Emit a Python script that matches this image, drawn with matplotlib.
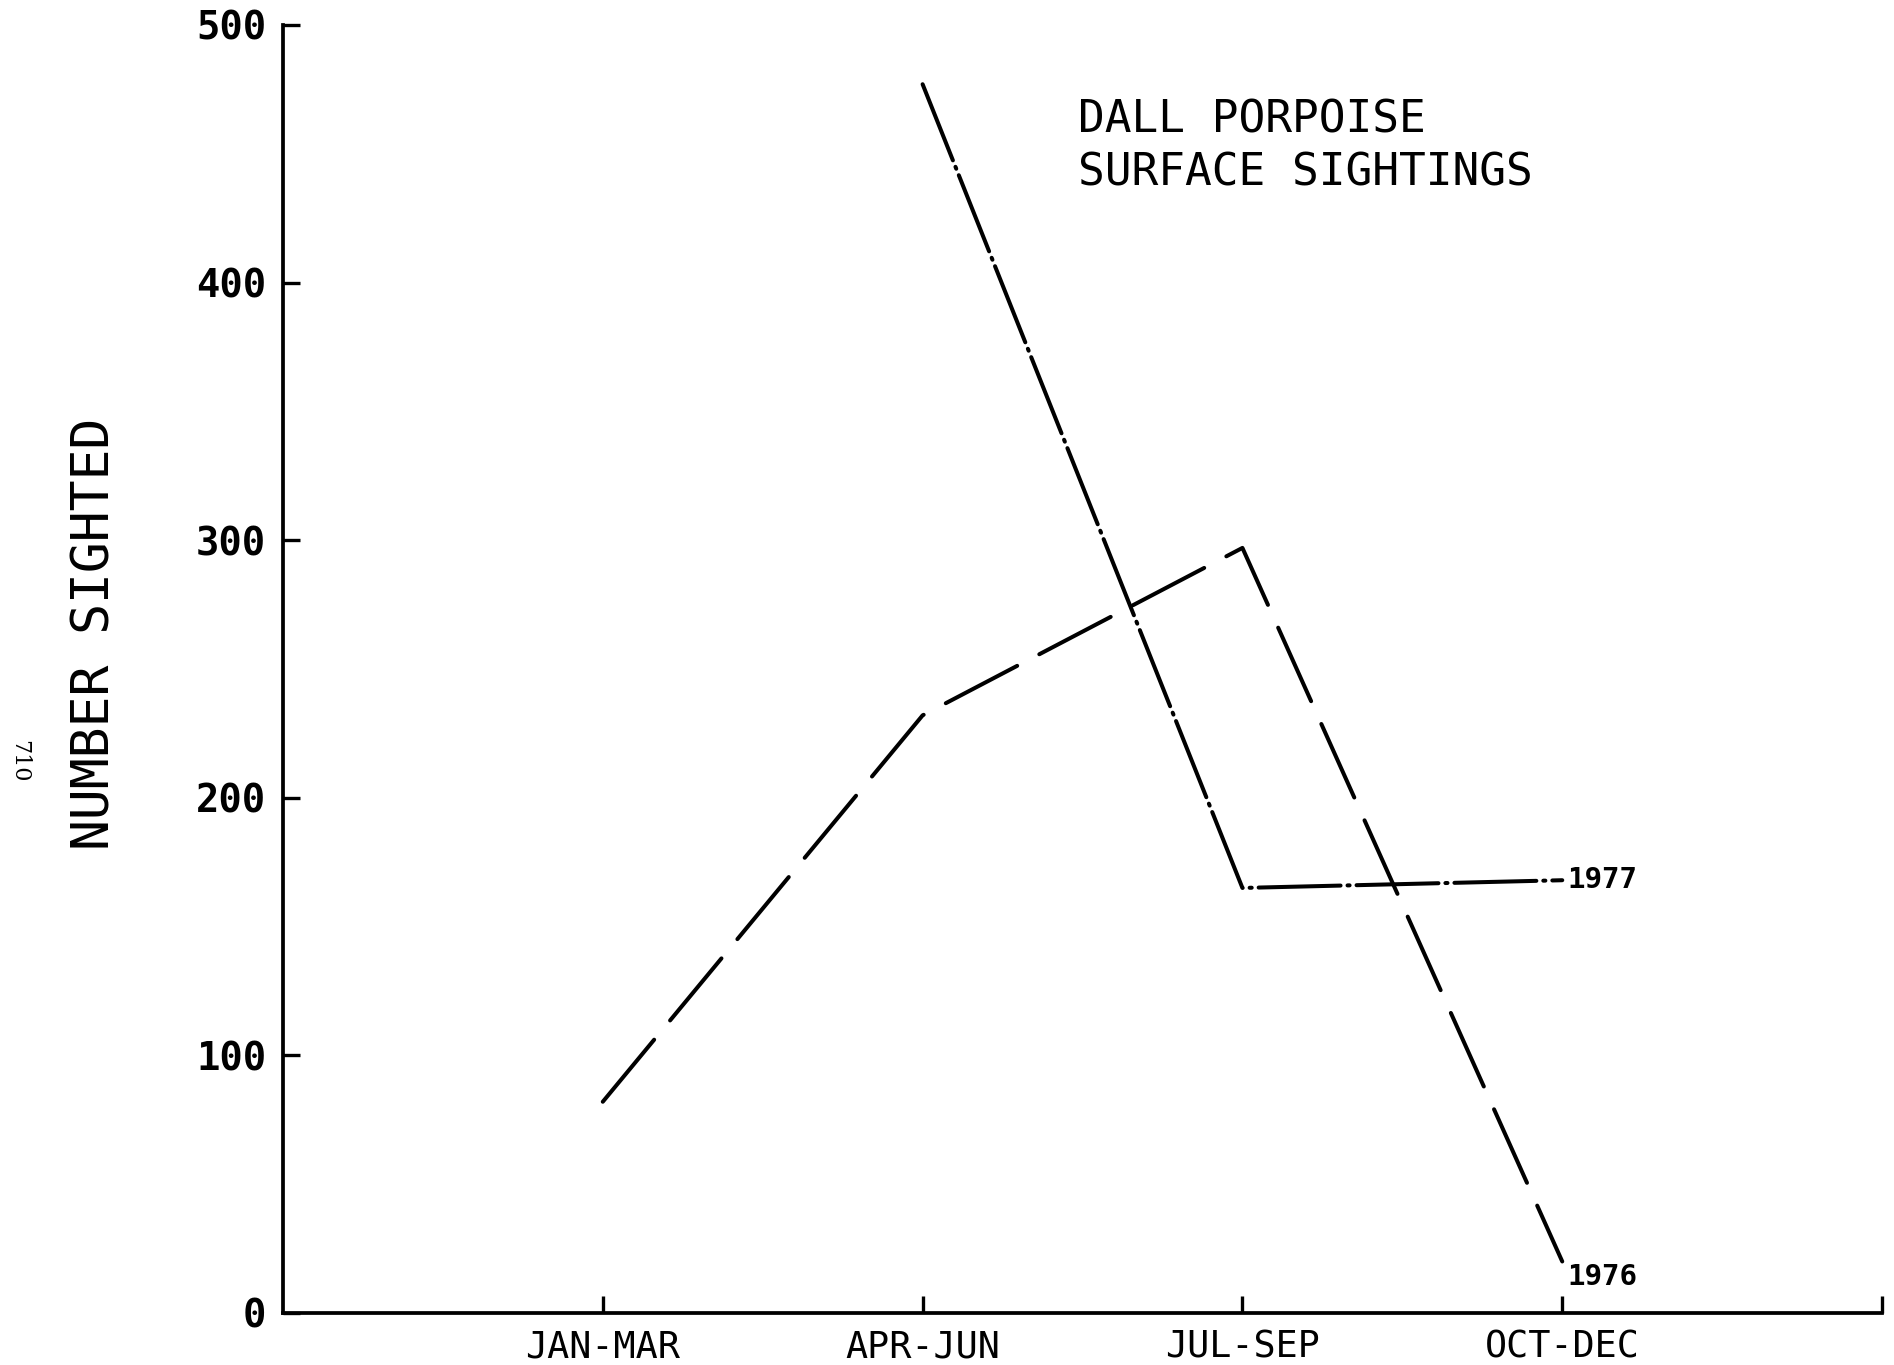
import matplotlib

matplotlib.use("Agg")
import matplotlib.pyplot as plt

quarters = ["JAN-MAR", "APR-JUN", "JUL-SEP", "OCT-DEC"]
sightings_1976 = [82, 232, 297, 20]
quarters_1977 = ["APR-JUN", "JUL-SEP", "OCT-DEC"]
sightings_1977 = [477, 165, 168]
y_ticks = [0, 100, 200, 300, 400, 500]

plt.rcParams["font.family"] = ["DejaVu Sans Mono", "DejaVu Sans"]
plt.rcParams["lines.scale_dashes"] = False

fig = plt.figure(figsize=(18.94, 13.65), dpi=100)
ax = fig.add_axes([0.1494, 0.0381, 0.8443, 0.9436])

pos = {q: i + 1 for i, q in enumerate(quarters)}
x76 = [pos[q] for q in quarters]
x77 = [pos[q] for q in quarters_1977]

ax.plot(x76, sightings_1976, color="black", lw=2.9, dashes=(58, 18),
        solid_capstyle="round", dash_capstyle="round")
ax.plot(x77, sightings_1977, color="black", lw=2.9, dashes=(59, 5, 1.5, 5),
        solid_capstyle="round", dash_capstyle="round")

ax.annotate("1977", (x77[-1], sightings_1977[-1]), xytext=(4, 0),
            textcoords="offset points", ha="left", va="center",
            fontsize=21, fontweight="bold")
ax.annotate("1976", (x76[-1], sightings_1976[-1]), xytext=(4, -1),
            textcoords="offset points", ha="left", va="top",
            fontsize=21, fontweight="bold")

ax.set_xlim(0, len(quarters) + 1)
ax.set_ylim(y_ticks[0], y_ticks[-1])

ax.set_xticks(list(range(1, len(quarters) + 2)))
ax.set_xticklabels(quarters + [""], fontsize=26.5)
ax.set_yticks(y_ticks)
ax.set_yticklabels([str(v) for v in y_ticks], fontsize=28, fontweight="bold")
ax.tick_params(axis="x", direction="in", length=12, width=2.4, pad=11)
ax.tick_params(axis="y", direction="in", length=12, width=2.4, pad=12)

for side in ["top", "right"]:
    ax.spines[side].set_visible(False)
for side in ["left", "bottom"]:
    ax.spines[side].set_linewidth(2.7)

ax.text(0.497, 0.9166, "DALL PORPOISE", transform=ax.transAxes,
        fontsize=32, ha="left", va="baseline")
ax.text(0.497, 0.8754, "SURFACE SIGHTINGS", transform=ax.transAxes,
        fontsize=32, ha="left", va="baseline")

fig.text(96 / 1894, 0.5355, "NUMBER SIGHTED", rotation=90,
         ha="center", va="center", fontsize=37)
fig.text(19 / 1894, 0.442, "710", rotation=-90, ha="center", va="center",
         fontsize=16, family="DejaVu Serif")

fig.savefig("out.png", dpi=100)
